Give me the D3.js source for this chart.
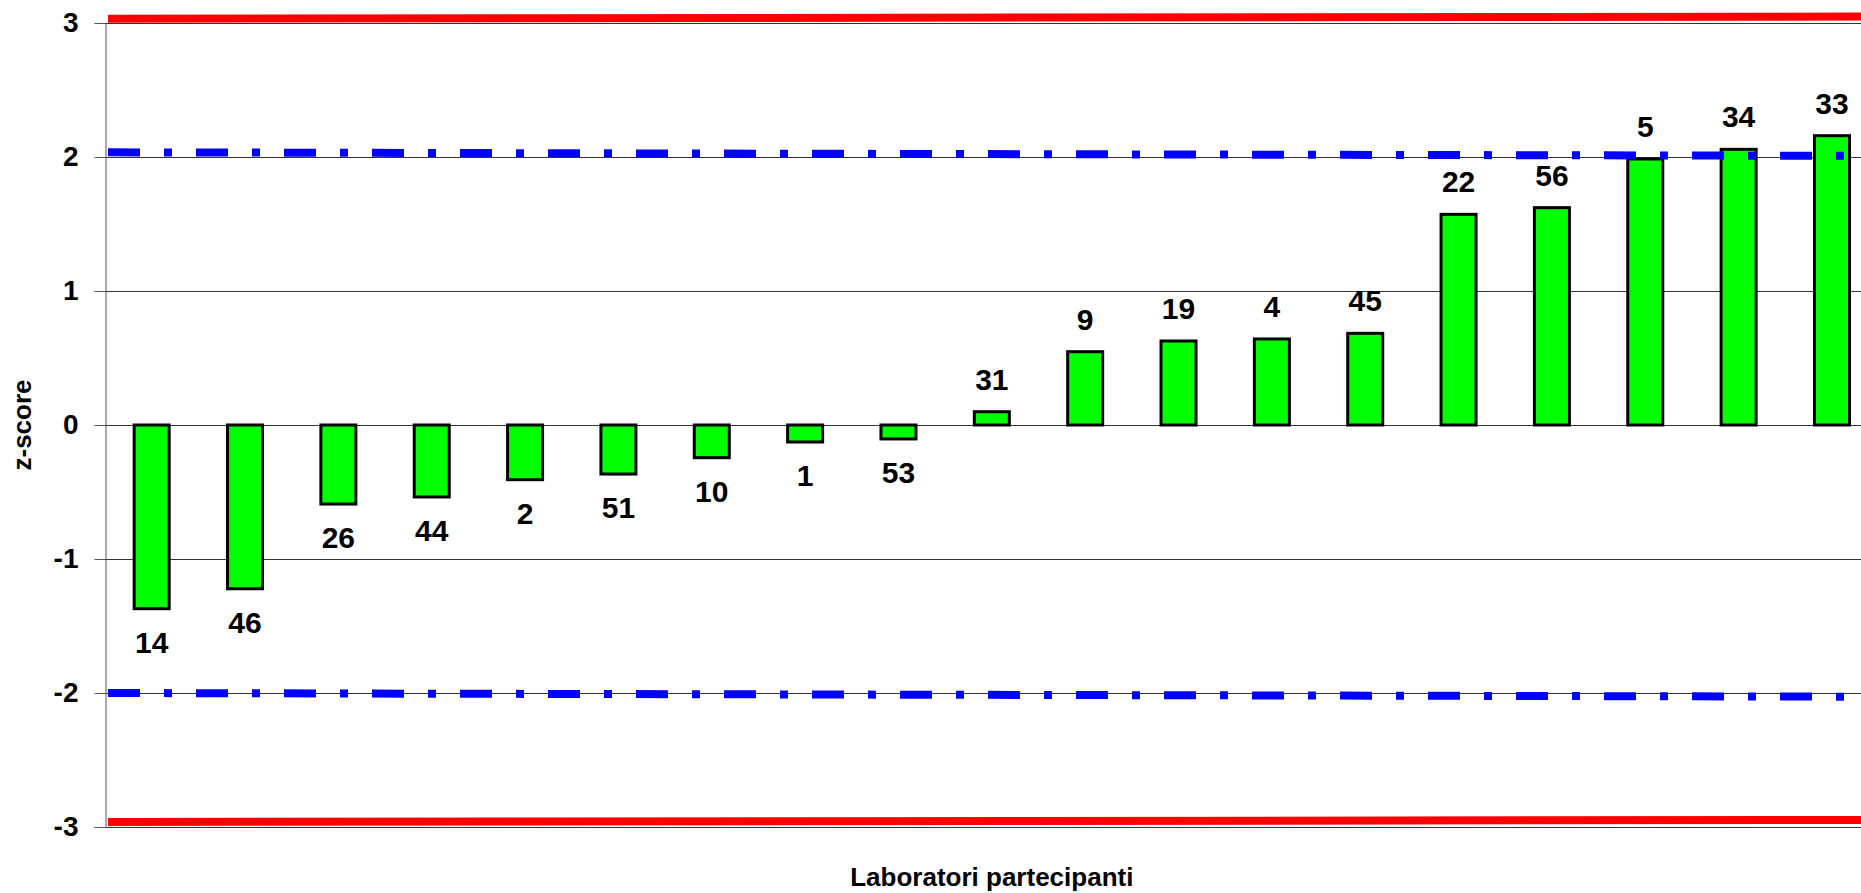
<!DOCTYPE html>
<html>
<head>
<meta charset="utf-8">
<script src="https://cdn.jsdelivr.net/npm/d3@7"></script>
<style>
  body { margin: 0; background: #fff; }
  svg { display: block; font-family: "Liberation Sans", Arial, sans-serif; font-weight: bold; }
  .axis text { font-size: 28px; font-weight: bold; fill: #000; }
  .axis .domain { stroke: #555; }
  .axis .tick line { stroke: #555; }
</style>
</head>
<body>
<div id="chart"></div>
<script>
// Data ------------------------------------------------------------------------
const labs = ["14", "46", "26", "44", "2", "51", "10", "1", "53", "31",
              "9", "19", "4", "45", "22", "56", "5", "34", "33"];
const zScores = [-1.371, -1.222, -0.590, -0.537, -0.408, -0.366, -0.244, -0.127, -0.104, 0.099,
                 0.547, 0.627, 0.642, 0.684, 1.572, 1.622, 1.985, 2.057, 2.159];
const yTicks = [-3, -2, -1, 0, 1, 2, 3];
// limit lines, value at the left end and at the right end of the plot
const warnUpper = [2.035, 2.008];
const warnLower = [-2.0, -2.028];
const actUpper = [3.032, 3.048];
const actLower = [-2.963, -2.947];

// Layout ----------------------------------------------------------------------
const W = 1861, H = 893;
const plot = {left: 105, top: 23, bottom: 827, step: 93.35};
const plotRight = plot.left + plot.step * labs.length;

const svg = d3.select("#chart").append("svg")
    .attr("width", W)
    .attr("height", H);

// Scales
const x = d3.scaleBand()
    .domain(labs)
    .range([plot.left, plotRight]);

const y = d3.scaleLinear()
    .domain([-3, 3])
    .range([plot.bottom, plot.top]);

// horizontal position along the plot for the limit lines (0 = left, 1 = right)
const t = d3.scaleLinear()
    .domain([0, 1])
    .range([plot.left + 3, plotRight]);

// Gridlines
svg.append("g")
  .selectAll("line")
  .data(yTicks)
  .join("line")
    .attr("x1", plot.left)
    .attr("x2", plotRight)
    .attr("y1", d => Math.round(y(d)) + 0.5)
    .attr("y2", d => Math.round(y(d)) + 0.5)
    .attr("stroke", "#333")
    .attr("stroke-width", 1);

// Y axis
svg.append("g")
    .attr("class", "axis")
    .attr("transform", `translate(${plot.left + 0.5}, 0)`)
    .call(d3.axisLeft(y).tickValues(yTicks).tickSize(11).tickPadding(16).tickFormat(d3.format("d")))
    .call(g => g.selectAll(".tick text").text(d => d < 0 ? "-" + Math.abs(d) : d));

// Bars
const barW = 35;
const data = labs.map((lab, i) => ({lab, v: zScores[i]}));

svg.append("g")
  .selectAll("rect")
  .data(data)
  .join("rect")
    .attr("x", d => x(d.lab) + (x.bandwidth() - barW) / 2)
    .attr("width", barW)
    .attr("y", d => y(Math.max(0, d.v)))
    .attr("height", d => Math.abs(y(d.v) - y(0)))
    .attr("fill", "#00ff00")
    .attr("stroke", "#000")
    .attr("stroke-width", 3);

// Bar labels (lab code)
svg.append("g")
  .selectAll("text")
  .data(data)
  .join("text")
    .attr("x", d => x(d.lab) + x.bandwidth() / 2)
    .attr("y", d => d.v >= 0 ? y(d.v) - 22 : y(d.v) + 44)
    .attr("text-anchor", "middle")
    .attr("font-size", 30)
    .text(d => d.lab);

// Limit lines
const limitLine = d3.line()
    .x((d, i) => t(i))
    .y(d => y(d));

[warnUpper, warnLower].forEach(vals => {
  svg.append("path")
      .attr("d", limitLine(vals))
      .attr("fill", "none")
      .attr("stroke", "#0000ff")
      .attr("stroke-width", 8)
      .attr("stroke-dasharray", "32 24 8 24");
});

[actUpper, actLower].forEach(vals => {
  svg.append("path")
      .attr("d", limitLine(vals))
      .attr("fill", "none")
      .attr("stroke", "#ff0000")
      .attr("stroke-width", 8);
});

// Axis titles
svg.append("text")
    .attr("transform", `translate(31, ${(plot.top + plot.bottom) / 2}) rotate(-90)`)
    .attr("text-anchor", "middle")
    .attr("font-size", 26)
    .text("z-score");

svg.append("text")
    .attr("x", (plot.left + plotRight) / 2)
    .attr("y", 886)
    .attr("text-anchor", "middle")
    .attr("font-size", 26)
    .text("Laboratori partecipanti");
</script>
</body>
</html>
